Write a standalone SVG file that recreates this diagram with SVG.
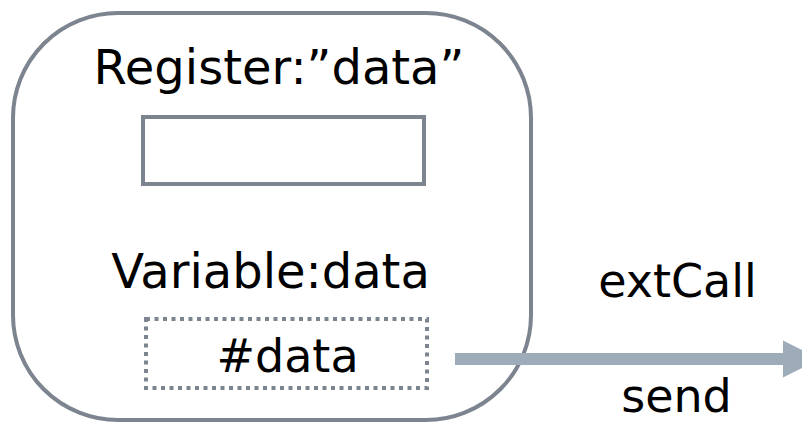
<svg xmlns="http://www.w3.org/2000/svg" width="802" height="423" viewBox="0 0 802 423">
  <style>
    .lbl { font-family: "DejaVu Sans", Verdana, sans-serif; font-size: 46px; fill: #000; text-anchor: middle; }
    .big { font-size: 48px; }
    .frame { fill: #fff; stroke: #7c858f; stroke-width: 4; }
    .slot { fill: #fff; stroke: #7c858f; stroke-width: 4; }
    .dotted { fill: none; stroke: #7c858f; stroke-width: 4; stroke-dasharray: 4 4.5; }
    .flow { stroke: #9eacba; stroke-width: 12; fill: none; }
  </style>
  <defs>
    <marker id="head" viewBox="0 0 10 10" refX="0" refY="5" markerWidth="3.1" markerHeight="3.1" markerUnits="strokeWidth" orient="auto">
      <path d="M0,0 L10,5 L0,10 Z" fill="#9eacba"/>
    </marker>
  </defs>

  <g id="container">
    <rect class="frame" x="13" y="13" width="518" height="407" rx="105" ry="105"/>
  </g>

  <g id="register">
    <text class="lbl big" x="279" y="84">Register:”data”</text>
    <rect class="slot" x="143" y="117" width="281" height="67"/>
  </g>

  <g id="variable">
    <text class="lbl big" x="270.5" y="288">Variable:data</text>
    <rect class="dotted" x="146" y="319" width="281" height="69"/>
    <text class="lbl" x="287.5" y="372">#data</text>
  </g>

  <g id="connectors">
    <line class="flow" x1="455" y1="359" x2="783" y2="359" marker-end="url(#head)"/>
    <text class="lbl" x="677.5" y="297">extCall</text>
    <text class="lbl" x="676.5" y="412">send</text>
  </g>
</svg>
